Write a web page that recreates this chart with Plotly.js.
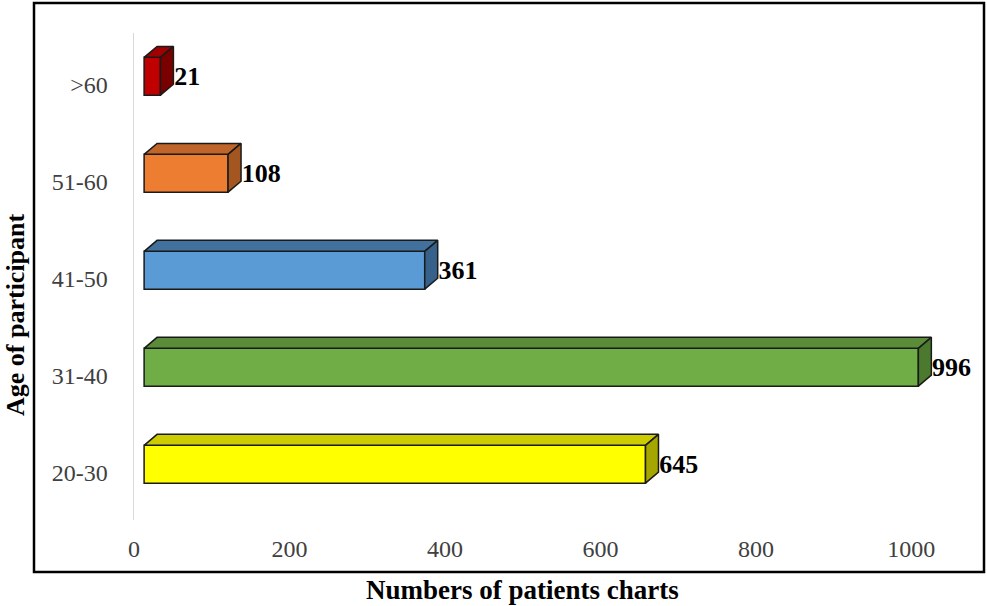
<!DOCTYPE html>
<html>
<head>
<meta charset="utf-8">
<script src="https://cdn.plot.ly/plotly-3.0.1.min.js"></script>
<style>html,body{margin:0;padding:0;background:#fff;}#chart{width:987px;height:606px;}</style>
</head>
<body>
<div id="chart"></div>
<script>
// ---- data ----
const categories = ["20-30", "31-40", "41-50", "51-60", ">60"];
const counts = [645, 996, 361, 108, 21];
const xTickValues = [0, 200, 400, 600, 800, 1000];
const frontColors = ["#FFFF00", "#70AD47", "#5B9BD5", "#ED7D31", "#C00000"];
const topColors   = ["#CCCC00", "#5A8C39", "#41719C", "#C0652A", "#A00000"];
const sideColors  = ["#A6A600", "#4B7A2E", "#36618A", "#A3561F", "#7A0000"];

// ---- 3D look parameters (style) ----
const BASE = 13;        // front face starts slightly right of the axis
const DX = 16.7;        // depth offset along x (data units)
const DY = 0.113;       // depth offset along y (category units)
const H = 0.39;         // front face thickness
const SHIFT = 0.09;     // bars sit slightly above their labels

const yIdx = categories.map((c, i) => i);
const yc = yIdx.map(i => i + SHIFT);

const traces = [];
traces.push({
  type: "bar", orientation: "h",
  y: yc, x: counts, base: counts.map(() => BASE), width: H,
  marker: { color: frontColors, line: { color: "#1a1a1a", width: 1.5 } },
  hoverinfo: "skip", showlegend: false
});
counts.forEach((v, i) => {
  const yt = yc[i] + H / 2, yb = yc[i] - H / 2;
  traces.push({
    type: "scatter", mode: "lines", fill: "toself",
    x: [BASE, BASE + DX, BASE + v + DX, BASE + v, BASE],
    y: [yt, yt + DY, yt + DY, yt, yt],
    fillcolor: topColors[i], line: { color: "#1a1a1a", width: 1.5 },
    hoverinfo: "skip", showlegend: false
  });
  traces.push({
    type: "scatter", mode: "lines", fill: "toself",
    x: [BASE + v, BASE + v + DX, BASE + v + DX, BASE + v, BASE + v],
    y: [yb, yb + DY, yt + DY, yt, yb],
    fillcolor: sideColors[i], line: { color: "#1a1a1a", width: 1.5 },
    hoverinfo: "skip", showlegend: false
  });
});
traces.push({
  type: "scatter", mode: "text",
  x: counts.map(v => BASE + v + DX + 1), y: yc.map(y => y - 0.02),
  text: counts.map(String), textposition: "middle right",
  textfont: { family: "Liberation Serif", size: 26, color: "#000", weight: "bold" },
  cliponaxis: false, hoverinfo: "skip", showlegend: false
});

const L = 134, R = 29, T = 33, B = 86;
const pw = 987 - L - R, ph = 606 - T - B;
const px = p => (p - L) / pw;
const py = p => (606 - B - p) / ph;

const layout = {
  width: 987, height: 606,
  margin: { l: L, r: R, t: T, b: B },
  paper_bgcolor: "#fff", plot_bgcolor: "#fff",
  font: { family: "Liberation Serif", color: "#404040", size: 24 },
  showlegend: false,
  xaxis: {
    range: [0, 1060], tickvals: xTickValues, ticktext: xTickValues.map(String),
    showgrid: false, zeroline: false, showline: false, ticks: "",
    ticklabelstandoff: 12, tickfont: { size: 24, color: "#404040" }, fixedrange: true
  },
  yaxis: {
    range: [-0.485, 4.536], tickvals: yIdx, ticktext: categories,
    showgrid: false, zeroline: false, showline: true, linecolor: "#D9D9D9", linewidth: 1.5,
    ticks: "", ticklabelstandoff: 20, tickfont: { size: 24, color: "#404040" }, fixedrange: true
  },
  annotations: [
    { text: "<b>Numbers of patients charts</b>", xref: "paper", yref: "paper",
      x: px(522), y: py(590), xanchor: "center", yanchor: "middle", showarrow: false,
      font: { family: "Liberation Serif", size: 27, color: "#000" } },
    { text: "<b>Age of participant</b>", xref: "paper", yref: "paper", textangle: -90,
      x: px(15), y: py(315), xanchor: "center", yanchor: "middle", showarrow: false,
      font: { family: "Liberation Serif", size: 26, color: "#000" } }
  ],
  shapes: [
    { type: "rect", xref: "paper", yref: "paper", x0: px(34), x1: px(984), y0: py(572), y1: py(3),
      line: { color: "#000", width: 2.5 }, fillcolor: "rgba(0,0,0,0)", layer: "above" }
  ]
};

Plotly.newPlot("chart", traces, layout, { displayModeBar: false, staticPlot: true });
</script>
</body>
</html>
